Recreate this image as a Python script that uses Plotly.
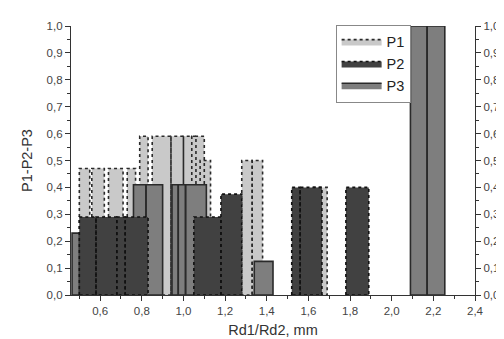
import plotly.graph_objects as go

# ---- data ----
p1_x = [0.525, 0.59, 0.675, 0.75, 0.81, 0.895, 0.97, 1.03, 1.07, 1.105, 1.305, 1.355, 1.655]
p1_w = [0.05, 0.06, 0.07, 0.04, 0.04, 0.09, 0.06, 0.06, 0.06, 0.05, 0.05, 0.05, 0.07]
p1_y = [0.47, 0.47, 0.47, 0.47, 0.59, 0.59, 0.59, 0.59, 0.59, 0.50, 0.50, 0.50, 0.40]

p2_x = [0.54, 0.63, 0.70, 0.775, 1.115, 1.23, 1.54, 1.6125, 1.835]
p2_w = [0.08, 0.10, 0.04, 0.11, 0.13, 0.10, 0.04, 0.105, 0.11]
p2_y = [0.29, 0.29, 0.29, 0.29, 0.29, 0.375, 0.40, 0.40, 0.40]

p3_x = [0.4825, 0.79, 0.86, 0.96, 0.9925, 1.06, 1.385, 2.13, 2.2125]
p3_w = [0.035, 0.06, 0.08, 0.03, 0.035, 0.10, 0.09, 0.08, 0.085]
p3_y = [0.23, 0.41, 0.41, 0.41, 0.41, 0.41, 0.125, 1.0, 1.0]


def rects(xs, ws, ys):
    px, py = [], []
    for c, w, h in zip(xs, ws, ys):
        l, r = c - w / 2, c + w / 2
        px += [l, l, r, r, l, None]
        py += [0, h, h, 0, 0, None]
    return px, py


FONT = "Liberation Sans, Arial, sans-serif"
fig = go.Figure()

series = [
    ("P1", p1_x, p1_w, p1_y, "#c9c9c9", "#2a2a2a", "dot", 1),
    ("P3", p3_x, p3_w, p3_y, "#7e7e7e", "#2a2a2a", "solid", 3),
    ("P2", p2_x, p2_w, p2_y, "#414141", "#111111", "dot", 2),
]
for name, xs, ws, ys, fill, lc, dash, rank in series:
    px, py = rects(xs, ws, ys)
    fig.add_trace(go.Scatter(
        x=px, y=py, name=name, mode="lines", fill="toself",
        fillcolor=fill, line=dict(color=lc, width=1.6, dash=dash),
        legendrank=rank, hoverinfo="skip"))

# invisible trace for right axis
fig.add_trace(go.Scatter(x=[1.0], y=[0.5], yaxis="y2", mode="markers",
                         marker=dict(opacity=0), showlegend=False, hoverinfo="skip"))

axis_common = dict(showgrid=False, zeroline=False, showline=True, linecolor="#333",
                   linewidth=1.2, ticks="outside", ticklen=5, tickwidth=1.2,
                   tickcolor="#333", tickfont=dict(family=FONT, size=11.5, color="#444"))
minor_common = dict(ticks="outside", ticklen=3, tickwidth=1, tickcolor="#333", showgrid=False)

fig.update_layout(
    width=504, height=339,
    margin=dict(l=63, r=29, t=15, b=45),
    plot_bgcolor="white", paper_bgcolor="white",
    separators=", ",
    font=dict(family=FONT, color="#333"),
    xaxis=dict(range=[0.46, 2.4], tick0=0, dtick=0.2, tickformat=".1f",
               minor=dict(dtick=0.1, tick0=0, **minor_common),
               title=dict(text="Rd1/Rd2, mm", font=dict(family=FONT, size=14.5, color="#333"),
                          standoff=8),
               **axis_common),
    yaxis=dict(range=[0, 1.0], tick0=0, dtick=0.1, tickformat=".1f",
               minor=dict(dtick=0.05, tick0=0, **minor_common),
               title=dict(text="P1-P2-P3", font=dict(family=FONT, size=14.5, color="#333"),
                          standoff=10),
               **axis_common),
    yaxis2=dict(range=[0, 1.0], tick0=0, dtick=0.1, tickformat=".1f", overlaying="y",
                side="right",
                minor=dict(dtick=0.05, tick0=0, **minor_common),
                **axis_common),
    legend=dict(x=0.655, y=1.005, xanchor="left", yanchor="top",
                bordercolor="#888", borderwidth=1, bgcolor="white",
                font=dict(family=FONT, size=14.5, color="#222"),
                itemwidth=40, tracegroupgap=0),
    showlegend=True,
)

fig.write_html("out.html")
